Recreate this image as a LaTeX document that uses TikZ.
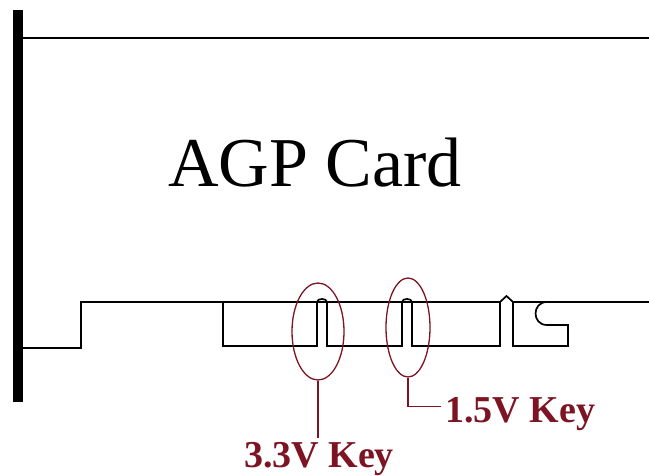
\documentclass[tikz,border=0pt]{standalone}
\usepackage{fontspec}
\setmainfont{Liberation Serif}
\usetikzlibrary{shapes.geometric}
\definecolor{agpred}{RGB}{125,20,35}
\tikzset{
  edge/.style={line width=1.7pt, black, line join=miter},
  keyring/.style={ellipse, draw=agpred, line width=1.3pt, inner sep=0pt},
  keylabel/.style={text=agpred, font=\fontsize{38}{38}\selectfont\bfseries, inner sep=4pt},
  callout/.style={draw=agpred, line width=1.3pt}
}
\begin{document}
\begin{tikzpicture}[x=1pt,y=-1pt]
\useasboundingbox (0,0) rectangle (649,476);
% bracket
\fill[black] (13,10) rectangle (23,402);
\draw[edge] (23,38) -- (649,38);
% card edge
\draw[edge] (23,348) -- (81,348) -- (81,302) -- (500,302);
\draw[edge] (513,302) -- (649,302);
% connector block with keys
\draw[edge] (223,302) -- (223,346) -- (317,346) -- (317,302)
  .. controls (317,298) and (327,298) .. (327,302) -- (327,346)
  -- (402,346) -- (402,302)
  .. controls (402,298) and (412,298) .. (412,302) -- (412,346)
  -- (500,346) -- (500,302) -- (506.5,296) -- (513,302) -- (513,346)
  -- (568,346) -- (568,325) -- (547,325)
  .. controls (531.7,325) and (531.7,302) .. (547,302);
% title
\node[anchor=base west, inner sep=0pt, font=\fontsize{70}{70}\selectfont] (title) at (168,187) {AGP Card};
% key rings
\node[keyring, minimum width=52pt, minimum height=97pt] (k33) at (318,331.5) {};
\node[keyring, minimum width=44pt, minimum height=99pt] (k15) at (408,327.5) {};
% labels
\node[keylabel, anchor=base] (l33) at (319,467) {3.3V Key};
\node[keylabel, anchor=base west] (l15) at (441,422) {1.5V Key};
% callouts
\draw[callout] (k33.south) -- (k33.south |- l33.north);
\draw[callout] (k15.south) |- ([yshift=7pt]l15.west);
\end{tikzpicture}
\end{document}
